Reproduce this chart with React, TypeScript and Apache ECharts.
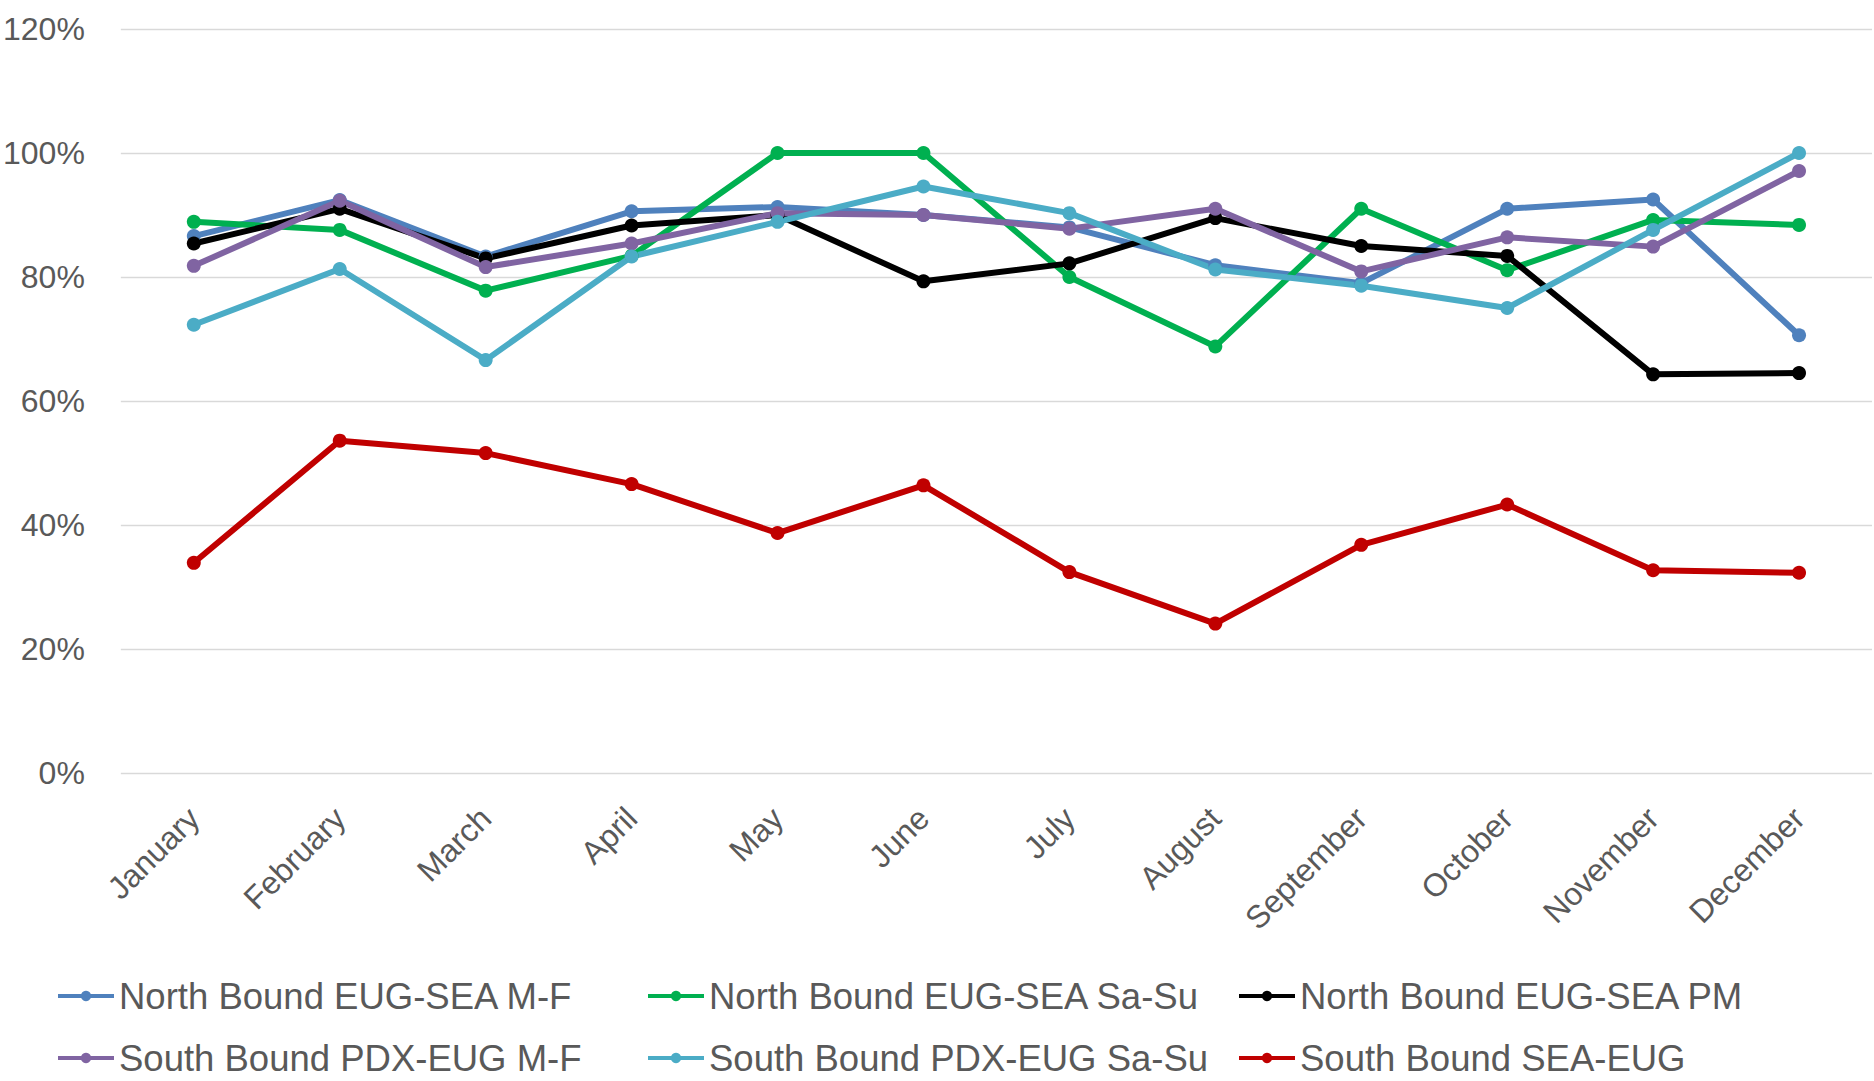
import React, { useEffect, useRef } from "react";
import * as echarts from "echarts";

const months = ["January", "February", "March", "April", "May", "June", "July", "August", "September", "October", "November", "December"];

const seriesNames = [
  "North Bound EUG-SEA M-F",
  "North Bound EUG-SEA Sa-Su",
  "North Bound EUG-SEA PM",
  "South Bound PDX-EUG M-F",
  "South Bound PDX-EUG Sa-Su",
  "South Bound SEA-EUG",
];

const nbMF = [86.6, 92.4, 83.3, 90.6, 91.3, 90.0, 88.0, 81.9, 79.0, 91.0, 92.5, 70.6];
const nbSaSu = [88.9, 87.6, 77.8, 83.4, 100, 100, 80.0, 68.8, 91.0, 81.1, 89.2, 88.4];
const nbPM = [85.4, 91.0, 83.0, 88.3, 90.0, 79.3, 82.2, 89.5, 85.0, 83.4, 64.3, 64.5];
const sbMF = [81.8, 92.3, 81.6, 85.4, 90.3, 90.0, 87.8, 91.0, 80.9, 86.4, 84.9, 97.1];
const sbSaSu = [72.3, 81.3, 66.6, 83.3, 88.9, 94.6, 90.3, 81.2, 78.6, 75.0, 87.6, 100];
const sbSeaEug = [33.9, 53.6, 51.6, 46.6, 38.7, 46.4, 32.4, 24.1, 36.8, 43.3, 32.7, 32.3];

const seriesData = [nbMF, nbSaSu, nbPM, sbMF, sbSaSu, sbSeaEug];
const colors = ["#4F81BD", "#00B050", "#000000", "#8064A2", "#4BACC6", "#C00000"];

const FONT = "Liberation Sans";

export default function App() {
  const ref = useRef<HTMLDivElement>(null);
  useEffect(() => {
    if (!ref.current) return;
    const chart = echarts.init(ref.current, undefined, { renderer: "svg" });
    const legendBase = {
      orient: "vertical" as const,
      top: 976,
      itemGap: 22,
      itemWidth: 56,
      itemHeight: 13,
      padding: 0,
      lineStyle: { width: 4 },
      textStyle: { fontSize: 36.5, color: "#595959", fontFamily: FONT, lineHeight: 40 },
    };
    chart.setOption({
      animation: false,
      backgroundColor: "#ffffff",
      grid: { left: 117.5, right: 2, top: 29, bottom: 308, containLabel: false },
      legend: [
        { ...legendBase, left: 56, data: [seriesNames[0], seriesNames[3]] },
        { ...legendBase, left: 646, data: [seriesNames[1], seriesNames[4]] },
        { ...legendBase, left: 1237, data: [seriesNames[2], seriesNames[5]] },
      ],
      xAxis: {
        type: "category",
        data: months,
        boundaryGap: true,
        axisLine: { show: false },
        axisTick: { show: false },
        axisLabel: {
          rotate: 45,
          margin: 40,
          fontSize: 32,
          color: "#595959",
          fontFamily: FONT,
          interval: 0,
        },
      },
      yAxis: {
        type: "value",
        min: 0,
        max: 120,
        interval: 20,
        axisLine: { show: false },
        axisTick: { show: false },
        splitLine: { lineStyle: { color: "#D9D9D9", width: 1.3 } },
        axisLabel: {
          formatter: "{value}%",
          margin: 36,
          fontSize: 32,
          color: "#595959",
          fontFamily: FONT,
        },
      },
      series: seriesNames.map((name, i) => ({
        name,
        type: "line",
        data: seriesData[i],
        symbol: "circle",
        symbolSize: 14,
        showSymbol: true,
        color: colors[i],
        lineStyle: { width: 6, color: colors[i] },
        itemStyle: { color: colors[i], borderWidth: 0 },
      })),
    });
    return () => chart.dispose();
  }, []);
  return (
    <div
      ref={ref}
      style={{ position: "fixed", left: 0, top: 0, width: 1874, height: 1081, background: "#fff" }}
    />
  );
}
